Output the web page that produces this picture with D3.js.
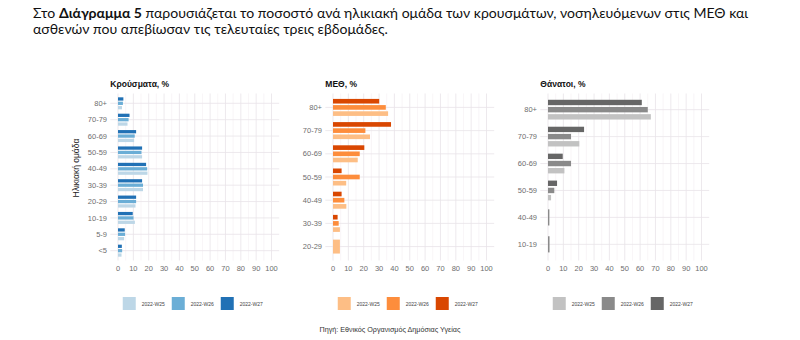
<!DOCTYPE html>
<html lang="el">
<head>
<meta charset="UTF-8">
<title>Διάγραμμα 5</title>
<script src="https://d3js.org/d3.v7.min.js"></script>
<style>
  body { margin: 0; background: #fff; }
  svg text { font-family: "Liberation Sans", Arial, sans-serif; }
  .intro { font-family: Lato, "Open Sans", sans-serif; fill: #111; }
</style>
</head>
<body>
<div id="chart"></div>
<script>
// data
const weeks = ["2022-W25", "2022-W26", "2022-W27"];

const ageCases = ["80+", "70-79", "60-69", "50-59", "40-49", "30-39", "20-29", "10-19", "5-9", "<5"];
const casesW25 = [2.6, 6.2, 10.5, 15.7, 19.2, 16.3, 11.4, 11.0, 4.0, 2.3];
const casesW26 = [3.2, 6.9, 10.9, 15.3, 19.0, 16.3, 11.8, 10.1, 4.6, 2.7];
const casesW27 = [3.5, 7.5, 11.8, 15.7, 18.3, 15.7, 11.8, 9.6, 4.4, 2.5];

const ageIcu = ["80+", "70-79", "60-69", "50-59", "40-49", "30-39", "20-29"];
const icuW25 = [35.9, 24.1, 16.1, 8.6, 8.7, 4.5, 4.5];
const icuW26 = [34.4, 21.1, 17.4, 17.4, 7.4, 3.7, null];
const icuW27 = [30.1, 37.8, 20.4, 5.6, 5.6, 3.0, null];

const ageDeaths = ["80+", "70-79", "60-69", "50-59", "40-49", "10-19"];
const deathsW25 = [67.0, 20.4, 10.7, 2.0, null, null];
const deathsW26 = [65.0, 15.0, 15.0, 4.1, 0.9, 1.0];
const deathsW27 = [61.1, 23.5, 9.6, 5.9, null, null];

const xTicks = [0, 10, 20, 30, 40, 50, 60, 70, 80, 90, 100];

const width = 800, height = 340;
const svg = d3.select("#chart").append("svg")
    .attr("width", width)
    .attr("height", height);

svg.append("rect").attr("width", width).attr("height", height).attr("fill", "#fff");

// intro paragraph; both lines squeezed by the same factor
const intro1 = svg.append("text").attr("class", "intro")
    .attr("x", 33).attr("y", 17.5)
    .attr("font-size", 13.5);
intro1.append("tspan").text("Στο ");
intro1.append("tspan").attr("font-weight", "bold").text("Διάγραμμα 5");
intro1.append("tspan").text(" παρουσιάζεται το ποσοστό ανά ηλικιακή ομάδα των κρουσμάτων, νοσηλευόμενων στις ΜΕΘ και");

const intro2 = svg.append("text").attr("class", "intro")
    .attr("x", 33).attr("y", 33.5)
    .attr("font-size", 13.5)
    .text("ασθενών που απεβίωσαν τις τελευταίες τρεις εβδομάδες.");

const squeeze = 715 / intro1.node().getComputedTextLength();
intro1.attr("textLength", 715).attr("lengthAdjust", "spacingAndGlyphs");
intro2.attr("textLength", intro2.node().getComputedTextLength() * squeeze)
    .attr("lengthAdjust", "spacingAndGlyphs");

const panels = [
    { title: "Κρούσματα, %", ages: ageCases, series: [casesW25, casesW26, casesW27],
      colors: ["#bdd7e7", "#6baed6", "#2171b5"], x0: 118 },
    { title: "ΜΕΘ, %", ages: ageIcu, series: [icuW25, icuW26, icuW27],
      colors: ["#fdbe85", "#fd8d3c", "#d94701"], x0: 333 },
    { title: "Θάνατοι, %", ages: ageDeaths, series: [deathsW25, deathsW26, deathsW27],
      colors: ["#c2c2c2", "#8a8a8a", "#666666"], x0: 548 }
];

const plotTop = 93.5, plotBottom = 260.5;
const pxPerUnit = 1.535;

panels.forEach(p => {
    const x = d3.scaleLinear()
        .domain([0, 100])
        .range([p.x0, p.x0 + 100 * pxPerUnit]);

    const y = d3.scalePoint()
        .domain(p.ages)
        .range([plotTop, plotBottom])
        .padding(0.6);

    const g = svg.append("g");
    const left = x(-5), right = x(105);

    // minor vertical grid
    g.selectAll(".vminor")
        .data(d3.range(5, 100, 10))
        .enter().append("line")
        .attr("x1", d => x(d)).attr("x2", d => x(d))
        .attr("y1", plotTop).attr("y2", plotBottom)
        .attr("stroke", "#f3eff2").attr("stroke-width", 0.6);

    // major vertical grid
    g.selectAll(".vmajor")
        .data(xTicks)
        .enter().append("line")
        .attr("x1", d => x(d)).attr("x2", d => x(d))
        .attr("y1", plotTop).attr("y2", plotBottom)
        .attr("stroke", "#e9e3e8").attr("stroke-width", 0.8);

    // horizontal grid at each category
    g.selectAll(".hmajor")
        .data(p.ages)
        .enter().append("line")
        .attr("x1", left).attr("x2", right)
        .attr("y1", d => y(d)).attr("y2", d => y(d))
        .attr("stroke", "#e9e3e8").attr("stroke-width", 0.8);

    // bars, dodged like ggplot (single bar takes whole width)
    const step = y.step();
    p.ages.forEach((age, i) => {
        const present = [2, 1, 0].filter(s => p.series[s][i] != null);
        const sub = d3.scaleBand()
            .domain(present)
            .range([y(age) - 0.4 * step, y(age) + 0.4 * step])
            .paddingInner(0.25)
            .paddingOuter(0.125);
        g.selectAll(null)
            .data(present)
            .enter().append("rect")
            .attr("x", x(0))
            .attr("y", s => sub(s))
            .attr("width", s => x(p.series[s][i]) - x(0))
            .attr("height", sub.bandwidth())
            .attr("fill", s => p.colors[s]);
    });

    // y tick labels
    g.selectAll(".ylab")
        .data(p.ages)
        .enter().append("text")
        .attr("x", x(0) - 11)
        .attr("y", d => y(d))
        .attr("dy", "0.35em")
        .attr("text-anchor", "end")
        .attr("font-size", 7.5)
        .attr("fill", "#6e6e6e")
        .text(d => d);

    // x tick labels
    g.selectAll(".xlab")
        .data(xTicks)
        .enter().append("text")
        .attr("x", d => x(d))
        .attr("y", 271)
        .attr("text-anchor", "middle")
        .attr("font-size", 7.5)
        .attr("fill", "#6e6e6e")
        .text(d => d);

    // panel title
    g.append("text")
        .attr("x", left)
        .attr("y", 87)
        .attr("font-size", 8.5)
        .attr("font-weight", "bold")
        .attr("fill", "#111")
        .text(p.title);

    // legend, centred under the plot area
    const pitch = 49;
    const legendX = (left + right) / 2 - 72;
    const leg = g.selectAll(".legend")
        .data(weeks)
        .enter().append("g")
        .attr("transform", (d, i) => `translate(${legendX + i * pitch},297)`);
    leg.append("rect")
        .attr("width", 13).attr("height", 13)
        .attr("fill", (d, i) => p.colors[i]);
    leg.append("text")
        .attr("x", 19).attr("y", 8.5)
        .attr("font-size", 5)
        .attr("fill", "#444")
        .text(d => d);
});

// y axis title (first panel only)
svg.append("text")
    .attr("transform", "translate(79,168) rotate(-90)")
    .attr("text-anchor", "middle")
    .attr("font-size", 8.5)
    .attr("fill", "#222")
    .text("Ηλικιακή ομάδα");

// source
svg.append("text")
    .attr("x", 390).attr("y", 332)
    .attr("text-anchor", "middle")
    .attr("font-size", 7.2)
    .attr("fill", "#333")
    .text("Πηγή: Εθνικός Οργανισμός Δημόσιας Υγείας");
</script>
</body>
</html>
